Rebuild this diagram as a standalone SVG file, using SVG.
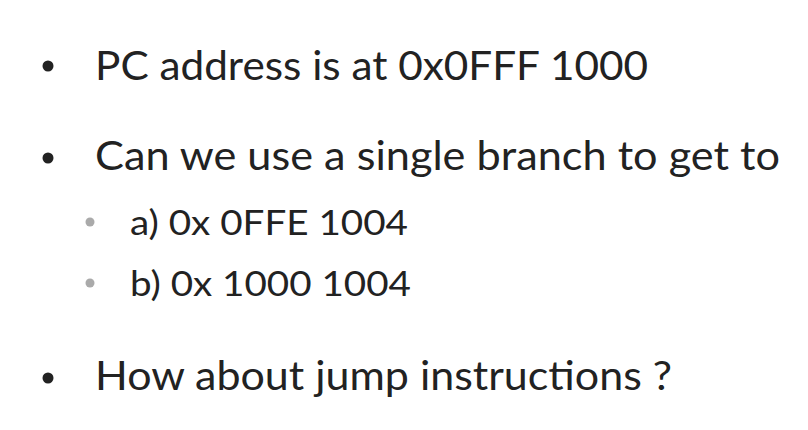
<svg xmlns="http://www.w3.org/2000/svg" width="808" height="430" viewBox="0 0 808 430">
<style>
.t{font-family:Lato,"Open Sans",sans-serif;fill:#222}
.m{font-size:40px}
.s{font-size:34px}
</style>
<rect width="808" height="430" fill="#fff"/>
<g id="bullets">
<circle cx="48" cy="66" r="5.5" fill="#222"/>
<circle cx="48" cy="158" r="5.5" fill="#222"/>
<circle cx="90" cy="222" r="4.5" fill="#aaa"/>
<circle cx="90" cy="283" r="4.5" fill="#aaa"/>
<circle cx="48" cy="378" r="5.5" fill="#222"/>
</g>
<g id="text">
<text class="t m" x="95" y="80" textLength="553" lengthAdjust="spacingAndGlyphs">PC address is at 0x0FFF 1000</text>
<text class="t m" x="95" y="170" textLength="685" lengthAdjust="spacingAndGlyphs">Can we use a single branch to get to</text>
<text class="t s" x="130" y="235" textLength="278" lengthAdjust="spacingAndGlyphs">a) 0x 0FFE 1004</text>
<text class="t s" x="130" y="296" textLength="281" lengthAdjust="spacingAndGlyphs">b) 0x 1000 1004</text>
<text class="t m" x="95" y="390" textLength="577" lengthAdjust="spacingAndGlyphs">How about jump instructions ?</text>
</g>
</svg>
